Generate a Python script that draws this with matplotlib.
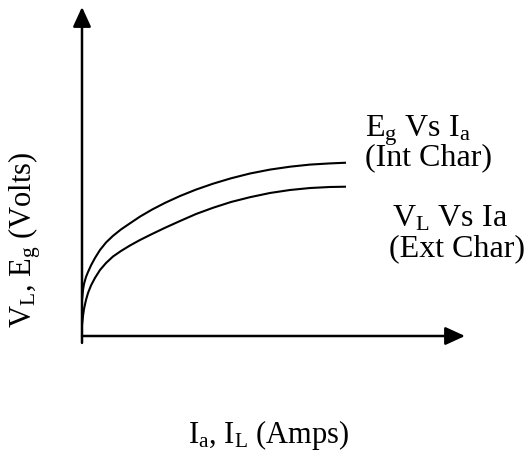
import matplotlib
matplotlib.use("Agg")
import matplotlib.pyplot as plt

plt.rcParams["font.family"] = ["Liberation Serif", "DejaVu Serif"]
plt.rcParams["mathtext.fontset"] = "custom"
plt.rcParams["mathtext.rm"] = "Liberation Serif"
plt.rcParams["mathtext.it"] = "Liberation Serif:italic"

# ── Curves (arbitrary units, axis length = 10) ───────────────────────────────
ia = [0.000, 0.026, 0.052, 0.104, 0.157, 0.235, 0.339, 0.470, 0.627, 0.809,
      1.018, 1.253, 1.514, 1.828, 2.167, 2.559, 2.977, 3.420, 3.890, 4.386,
      4.909, 5.431, 5.953, 6.475, 6.893]
# Eg vs Ia  (internal characteristic)
eg_int = [1.094, 1.398, 1.581, 1.793, 1.945, 2.146, 2.371, 2.614, 2.842, 3.044,
          3.239, 3.425, 3.629, 3.842, 4.046, 4.255, 4.450, 4.629, 4.793, 4.939,
          5.058, 5.146, 5.210, 5.246, 5.267]
# VL vs Ia  (external characteristic)
vl_ext = [0.334, 0.608, 0.821, 1.094, 1.307, 1.535, 1.766, 2.006, 2.219, 2.416,
          2.584, 2.751, 2.918, 3.100, 3.289, 3.495, 3.708, 3.897, 4.073, 4.219,
          4.347, 4.438, 4.498, 4.529, 4.538]

AXIS_LEN = 10.0

W, H = 528, 457
fig = plt.figure(figsize=(W / 100, H / 100), dpi=100)
ax = fig.add_axes([0, 0, 1, 1])
# origin sits at pixel (82, 336); 38.3 px per unit in x, 32.9 px per unit in y
ax.set_xlim(-82 / 38.3, (W - 82) / 38.3)
ax.set_ylim((336 - H) / 32.9, 336 / 32.9)
ax.axis("off")

# axes with filled arrow heads
arrow = dict(arrowstyle="-|>,head_length=1.2,head_width=0.55", mutation_scale=10,
             lw=1.8, color="black", shrinkA=0, shrinkB=0)
ax.annotate("", xy=(0, AXIS_LEN), xytext=(0, -0.21), arrowprops=arrow)
ax.annotate("", xy=(AXIS_LEN, 0), xytext=(0, 0), arrowprops=arrow)

ax.plot(ia, eg_int, color="black", lw=1.5, solid_capstyle="butt", solid_joinstyle="round")
ax.plot(ia, vl_ext, color="black", lw=1.5, solid_capstyle="butt", solid_joinstyle="round")

def fx(px): return px / W
def fy(py): return 1 - py / H

fs = 23
fig.text(fx(365), fy(136.7), r"E$_\mathrm{g}$ Vs I$_\mathrm{a}$", fontsize=fs, va="baseline")
fig.text(fx(365), fy(165), "(Int Char)", fontsize=fs, va="baseline")
fig.text(fx(391.7), fy(226.7), r"V$_\mathrm{L}$ Vs Ia", fontsize=fs, va="baseline")
fig.text(fx(389.3), fy(256.7), "(Ext Char)", fontsize=fs, va="baseline")

fig.text(fx(269), fy(443), r"I$_\mathrm{a}$, I$_\mathrm{L}$ (Amps)", fontsize=22,
         ha="center", va="baseline")
fig.text(fx(25), fy(240), r"V$_\mathrm{L}$, E$_\mathrm{g}$ (Volts)", fontsize=22,
         rotation=90, ha="center", va="center")

fig.savefig("out.png", dpi=100)
